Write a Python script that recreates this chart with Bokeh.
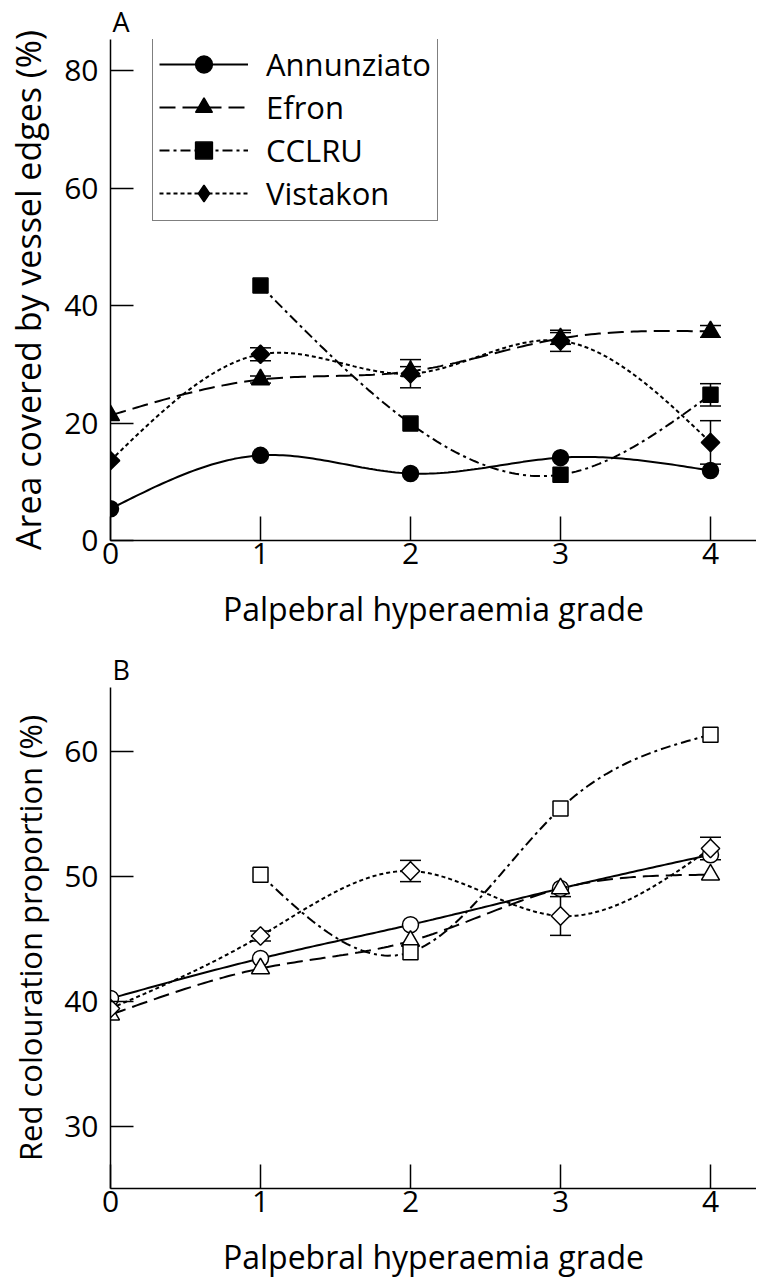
import numpy as np
from bokeh.plotting import figure
from bokeh.models import (Range1d, FixedTicker, Whisker, TeeHead, ColumnDataSource,
                          Legend, LegendItem)
from bokeh.layouts import column
from bokeh.embed import file_html
from bokeh.resources import INLINE

nan = float("nan")

# ---------------- data ----------------
grade = [0, 1, 2, 3, 4]
series_names = ["Annunziato", "Efron", "CCLRU", "Vistakon"]

# Panel A: area covered by vessel edges (%)
a_annunziato = [5.4, 14.5, 11.4, 14.1, 11.9]
a_efron = [21.3, 27.4, 28.8, 34.4, 35.6]
a_cclru = [nan, 43.4, 19.9, 11.2, 24.8]
a_vistakon = [13.6, 31.7, 28.4, 34.0, 16.7]
a_annunziato_err = [0, 0, 0, 0, 0]
a_efron_err = [0, 0.6, 0.8, 1.0, 1.0]
a_cclru_err = [0, 0, 0, 0, 1.9]
a_vistakon_err = [0, 1.1, 2.4, 1.8, 3.7]

# Panel B: red colouration proportion (%)
b_annunziato = [40.2, 43.4, 46.1, 49.0, 51.7]
b_efron = [38.9, 42.6, 44.8, 49.0, 50.1]
b_cclru = [nan, 50.1, 43.9, 55.4, 61.3]
b_vistakon = [39.4, 45.2, 50.4, 46.8, 52.2]
b_annunziato_err = [0, 0, 0, 0, 0]
b_efron_err = [0, 0, 0, 0, 0]
b_cclru_err = [0, 0, 0, 0, 0]
b_vistakon_err = [0, 0.4, 0.85, 1.55, 0.9]

a_yticks = [0, 20, 40, 60, 80]
b_yticks = [30, 40, 50, 60]
xticks = [0, 1, 2, 3, 4]

FONT = "Open Sans"
dashes = {"Annunziato": "solid", "Efron": "16 7", "CCLRU": "10 4 3 4", "Vistakon": "4 3"}
# (plot marker, angle, size)
markers = {"Annunziato": ("circle", 0.0, 16),
           "Efron": ("triangle", 0.0, 18),
           "CCLRU": ("square", 0.0, 15),
           "Vistakon": ("square", np.pi / 4, 13)}


def smooth(xs, ys, n=40):
    xs = np.asarray(xs, float)
    ys = np.asarray(ys, float)
    ok = ~np.isnan(ys)
    xs, ys = xs[ok], ys[ok]
    k = len(xs)
    h = np.diff(xs)
    A = np.zeros((k, k))
    b = np.zeros(k)
    A[0, 0] = 1
    A[-1, -1] = 1
    for i in range(1, k - 1):
        A[i, i - 1] = h[i - 1]
        A[i, i] = 2 * (h[i - 1] + h[i])
        A[i, i + 1] = h[i]
        b[i] = 6 * ((ys[i + 1] - ys[i]) / h[i] - (ys[i] - ys[i - 1]) / h[i - 1])
    M = np.linalg.solve(A, b)
    ox, oy = [], []
    for i in range(k - 1):
        t = np.linspace(xs[i], xs[i + 1], n, endpoint=(i == k - 2))
        a = xs[i + 1] - t
        bb = t - xs[i]
        y = ((M[i] * a ** 3 + M[i + 1] * bb ** 3) / (6 * h[i])
             + (ys[i] / h[i] - M[i] * h[i] / 6) * a
             + (ys[i + 1] / h[i] - M[i + 1] * h[i] / 6) * bb)
        ox.extend(t.tolist())
        oy.extend(y.tolist())
    return ox, oy


def make_panel(letter, ylabel, ylabel_size, yrange, yticks, data, errs, filled,
               top_border, bottom_border, with_legend):
    p = figure(frame_width=646, frame_height=501, output_backend="svg", toolbar_location=None,
               x_range=Range1d(0, 646 / 150.0), y_range=Range1d(*yrange),
               min_border_left=110, min_border_right=0, min_border_top=top_border,
               min_border_bottom=bottom_border, title=letter)
    p.outline_line_color = None
    p.grid.visible = False
    p.background_fill_color = "white"
    p.border_fill_color = "white"

    # panel letter as title
    p.title.text_font = FONT
    p.title.text_font_size = "27px"
    p.title.text_font_style = "normal"
    p.title.text_color = "black"
    p.title.align = "left"
    p.title.offset = 2
    p.title.standoff = 0
    p.title.text_line_height = 1.0

    for ax in (p.xaxis[0], p.yaxis[0]):
        ax.axis_line_color = "black"
        ax.axis_line_width = 1.5
        ax.major_tick_line_color = "black"
        ax.major_tick_line_width = 1.5
        ax.minor_tick_line_color = None
        ax.major_tick_out = 0
        ax.major_label_text_font = FONT
        ax.major_label_text_font_size = "30px"
        ax.major_label_text_color = "black"
        ax.axis_label_text_font = FONT
        ax.axis_label_text_font_style = "normal"
        ax.axis_label_text_color = "black"
    p.xaxis[0].ticker = FixedTicker(ticks=xticks)
    p.yaxis[0].ticker = FixedTicker(ticks=yticks)
    p.xaxis[0].major_tick_in = 24
    p.yaxis[0].major_tick_in = 23
    p.xaxis[0].major_label_standoff = 2
    p.yaxis[0].major_label_standoff = 12
    p.xaxis[0].axis_label = "Palpebral hyperaemia grade"
    p.xaxis[0].axis_label_text_font_size = "32px"
    p.xaxis[0].axis_label_standoff = 20
    p.yaxis[0].axis_label = ylabel
    p.yaxis[0].axis_label_text_font_size = ylabel_size
    p.yaxis[0].axis_label_text_line_height = 0.9
    p.yaxis[0].axis_label_standoff = 10

    items = []
    for name, ys, err in zip(series_names, data, errs):
        sx, sy = smooth(grade, ys)
        lr = p.line(sx, sy, line_color="black", line_width=2, line_dash=dashes[name])
        up, lo, gx = [], [], []
        for g, v, e in zip(grade, ys, err):
            if e > 0 and not np.isnan(v):
                gx.append(g)
                up.append(v + e)
                lo.append(v - e)
        if gx:
            src = ColumnDataSource(dict(x=gx, upper=up, lower=lo))
            w = Whisker(base="x", upper="upper", lower="lower", source=src, dimension="height",
                        line_color="black", line_width=1.5, level="underlay",
                        upper_head=TeeHead(size=21, line_width=1.5, line_color="black"),
                        lower_head=TeeHead(size=21, line_width=1.5, line_color="black"))
            p.add_layout(w)
        mk, ang, sz = markers[name]
        fill = "black" if filled else "white"
        legend_marker = None
        if with_legend and ang != 0.0:
            # slim diamond for the legend sample; sits hidden under the plotted marker
            legend_marker = p.scatter(grade, ys, marker="diamond", size=17, fill_color=fill,
                                      line_color="black", line_width=1.5)
        mr = p.scatter(grade, ys, marker=mk, angle=ang, size=sz,
                       fill_color=fill, line_color="black", line_width=1.5)
        items.append(LegendItem(label=name, renderers=[lr, legend_marker or mr]))

    if with_legend:
        leg = Legend(items=items, location=(42, 319), orientation="vertical")
        leg.label_text_font = FONT
        leg.label_text_font_size = "31px"
        leg.label_text_color = "black"
        leg.glyph_width = 89
        leg.glyph_height = 42
        leg.label_height = 42
        leg.label_standoff = 18
        leg.spacing = 1
        leg.padding = 6
        leg.margin = 0
        leg.border_line_color = "black"
        leg.border_line_width = 1.5
        leg.background_fill_color = "white"
        leg.background_fill_alpha = 1
        p.add_layout(leg, "center")
    return p


pa = make_panel("A", "Area covered by vessel edges (%)", "34px", (0, 85.3), a_yticks,
                [a_annunziato, a_efron, a_cclru, a_vistakon],
                [a_annunziato_err, a_efron_err, a_cclru_err, a_vistakon_err],
                True, 39, 100, True)
pb = make_panel("B", "Red colouration proportion (%)", "31px", (25, 65.08), b_yticks,
                [b_annunziato, b_efron, b_cclru, b_vistakon],
                [b_annunziato_err, b_efron_err, b_cclru_err, b_vistakon_err],
                False, 47, 92, False)

layout = column(pa, pb, spacing=0)
open("out.html", "w").write(file_html(layout, INLINE))
